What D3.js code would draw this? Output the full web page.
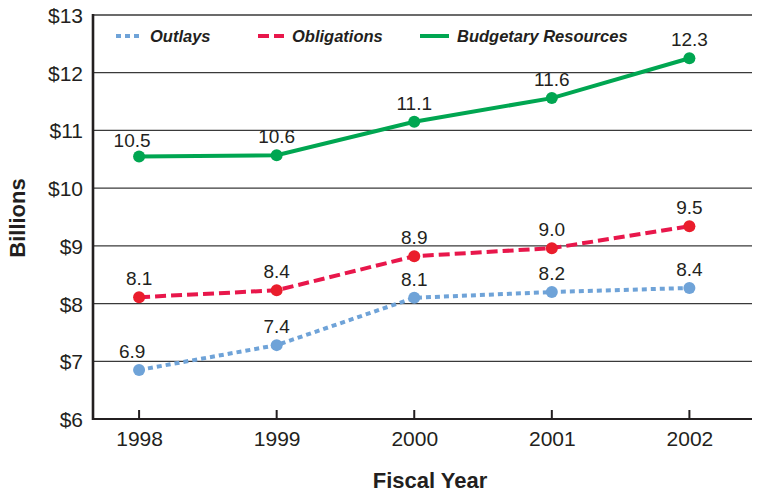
<!DOCTYPE html>
<html>
<head>
<meta charset="utf-8">
<script src="https://cdn.jsdelivr.net/npm/d3@7/dist/d3.min.js"></script>
<style>
body { margin: 0; background: #fff; }
text { font-family: "Liberation Sans", Arial, Helvetica, sans-serif; fill: #231f20; }
</style>
</head>
<body>
<div id="chart"></div>
<script>
var years = [1998, 1999, 2000, 2001, 2002];
var yTicks = [6, 7, 8, 9, 10, 11, 12, 13];

// plotted values (billions) and the labels printed over them
var outlays = [6.85, 7.28, 8.10, 8.20, 8.27];
var outlaysLabels = ["6.9", "7.4", "8.1", "8.2", "8.4"];
var obligations = [8.11, 8.23, 8.82, 8.96, 9.34];
var obligationsLabels = ["8.1", "8.4", "8.9", "9.0", "9.5"];
var budgetary = [10.55, 10.57, 11.15, 11.56, 12.25];
var budgetaryLabels = ["10.5", "10.6", "11.1", "11.6", "12.3"];

var seriesNames = ["Outlays", "Obligations", "Budgetary Resources"];

var width = 758, height = 493;
var plotLeft = 93, plotRight = 752, plotTop = 15, plotBottom = 419;

var svg = d3.select("#chart").append("svg")
	.attr("width", width)
	.attr("height", height);

var xScale = d3.scaleLinear()
	.domain([1997.665, 2002.455])
	.range([plotLeft, plotRight]);

var yScale = d3.scaleLinear()
	.domain([6, 13])
	.range([plotBottom, plotTop]);

// horizontal gridlines
svg.append("g").selectAll("line").data(yTicks.slice(1)).enter().append("line")
	.attr("x1", plotLeft).attr("x2", plotRight)
	.attr("y1", function(d){ return yScale(d); })
	.attr("y2", function(d){ return yScale(d); })
	.style("stroke", "#3a3a3a")
	.style("stroke-width", 1.3);

// y axis
var yAxis = d3.axisLeft(yScale)
	.tickValues(yTicks)
	.tickSize(0)
	.tickPadding(10)
	.tickFormat(function(d){ return "$" + d; });

var gy = svg.append("g")
	.attr("transform", "translate(" + plotLeft + ",0)")
	.call(yAxis);
gy.select(".domain").remove();
gy.selectAll("text")
	.style("font-size", "21px")
	.style("fill", "#231f20")
	.attr("dy", "0.36em");

// x axis
var xAxis = d3.axisBottom(xScale)
	.tickValues(years)
	.tickSize(0)
	.tickPadding(12)
	.tickFormat(d3.format("d"));

var gx = svg.append("g")
	.attr("transform", "translate(0," + plotBottom + ")")
	.call(xAxis);
gx.select(".domain").remove();
gx.selectAll("text")
	.style("font-size", "21px")
	.style("fill", "#231f20");

// inward tick marks
svg.append("g").selectAll("line").data(years).enter().append("line")
	.attr("x1", function(d){ return xScale(d); })
	.attr("x2", function(d){ return xScale(d); })
	.attr("y1", plotBottom - 9).attr("y2", plotBottom)
	.style("stroke", "#231f20")
	.style("stroke-width", 2);

// axis lines
svg.append("line")
	.attr("x1", plotLeft).attr("x2", plotRight)
	.attr("y1", plotBottom).attr("y2", plotBottom)
	.style("stroke", "#231f20").style("stroke-width", 2.2);
svg.append("line")
	.attr("x1", plotLeft).attr("x2", plotLeft)
	.attr("y1", plotTop - 1).attr("y2", plotBottom + 1)
	.style("stroke", "#231f20").style("stroke-width", 2.6);

// axis titles
svg.append("text")
	.attr("text-anchor", "middle")
	.attr("transform", "translate(" + 25 + "," + 218 + ")rotate(-90)")
	.style("font-size", "22px")
	.style("font-weight", "bold")
	.text("Billions");

svg.append("text")
	.attr("text-anchor", "middle")
	.attr("x", 430).attr("y", 488)
	.style("font-size", "22px")
	.style("font-weight", "bold")
	.text("Fiscal Year");

var series = [
	{ name: seriesNames[0], values: outlays, labels: outlaysLabels, color: "#6fa3d8", dot: "#6fa3d8", dash: "5,4", lift: 12 },
	{ name: seriesNames[1], values: obligations, labels: obligationsLabels, color: "#e8174b", dot: "#ea1d2c", dash: "11,5", lift: 12 },
	{ name: seriesNames[2], values: budgetary, labels: budgetaryLabels, color: "#00a651", dot: "#00a651", dash: null, lift: 9 }
];

var line = d3.line()
	.x(function(d, i){ return xScale(years[i]); })
	.y(function(d){ return yScale(d); });

series.forEach(function(s) {
	svg.append("path")
		.datum(s.values)
		.attr("d", line)
		.style("fill", "none")
		.style("stroke", s.color)
		.style("stroke-width", 4)
		.style("stroke-dasharray", s.dash);

	svg.append("g").selectAll("circle").data(s.values).enter().append("circle")
		.attr("cx", function(d, i){ return xScale(years[i]); })
		.attr("cy", function(d){ return yScale(d); })
		.attr("r", 6)
		.style("fill", s.dot);

	// first labels of the outer series sit a bit to the left
	var shifted = function(i){ return i == 0 && s.name != "Obligations"; };
	svg.append("g").selectAll("text").data(s.values).enter().append("text")
		.attr("text-anchor", "middle")
		.attr("x", function(d, i){ return xScale(years[i]) - (shifted(i) ? 7 : 0); })
		.attr("y", function(d, i){ return yScale(d) - (shifted(i) ? s.lift : 12); })
		.style("font-size", "19px")
		.text(function(d, i){ return s.labels[i]; });
});

// legend
var legendX = [116, 258, 420];
var legendW = [26, 26, 29];
series.forEach(function(s, i) {
	svg.append("line")
		.attr("x1", legendX[i]).attr("x2", legendX[i] + legendW[i])
		.attr("y1", 36).attr("y2", 36)
		.style("stroke", s.color)
		.style("stroke-width", 4)
		.style("stroke-dasharray", s.dash);
	svg.append("text")
		.attr("x", legendX[i] + legendW[i] + 8)
		.attr("y", 42)
		.style("font-size", "16.5px")
		.style("font-weight", "bold")
		.style("font-style", "italic")
		.text(s.name);
});
</script>
</body>
</html>
